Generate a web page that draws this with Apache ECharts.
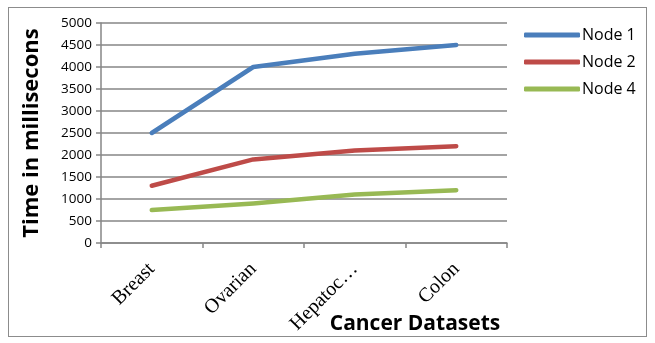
<!DOCTYPE html>
<html><head><meta charset="utf-8">
<script src="https://cdn.jsdelivr.net/npm/echarts@6/dist/echarts.min.js"></script>
<style>
html,body{margin:0;padding:0;background:#fff;}
#frame{position:absolute;left:8px;top:7px;width:639px;height:330px;border:1px solid #8c8c8c;box-sizing:border-box;}
#c{position:absolute;left:0;top:0;width:655px;height:343px;}
</style></head>
<body>
<div id="frame"></div>
<div id="c"></div>
<script>
const categories = ['Breast', 'Ovarian', 'Hepatoc…', 'Colon'];
const node1 = [2500, 4000, 4300, 4500];
const node2 = [1300, 1900, 2100, 2200];
const node4 = [750, 900, 1100, 1200];
const seriesNames = ['Node 1', 'Node 2', 'Node 4'];
const colors = ['#4a7ebb', '#be4b48', '#98b954'];

const chart = echarts.init(document.getElementById('c'), null, {renderer: 'canvas'});
const mk = (name, data, color) => ({
  name, type: 'line', data, symbol: 'none', smooth: false,
  lineStyle: {width: 4.5, color, cap: 'round', join: 'round'},
  itemStyle: {color}
});
chart.setOption({
  animation: false,
  backgroundColor: 'transparent',
  grid: {left: 101, right: 148, top: 23, bottom: 100, containLabel: false},
  legend: {
    orient: 'vertical', left: 524, top: 27, itemGap: 11, padding: 0,
    itemWidth: 56, itemHeight: 5, icon: 'roundRect',
    textStyle: {fontFamily: 'Open Sans', fontSize: 16, color: '#000', padding: [0,0,0,-3]},
    data: seriesNames
  },
  xAxis: {
    type: 'category', data: categories, boundaryGap: true,
    axisLine: {lineStyle: {color: '#868686', width: 1.5}},
    axisTick: {show: true, length: 5, lineStyle: {color: '#868686', width: 1.5}},
    axisLabel: {rotate: 45, margin: 23, fontFamily: 'Liberation Serif', fontSize: 20, color: '#000', interval: 0}
  },
  yAxis: {
    type: 'value', min: 0, max: 5000, interval: 500,
    axisLine: {show: true, lineStyle: {color: '#868686', width: 1.5}},
    axisTick: {show: true, length: 5, inside: false, lineStyle: {color: '#868686', width: 1.5}},
    splitLine: {show: true, lineStyle: {color: '#868686', width: 1.5}},
    axisLabel: {margin: 9, fontFamily: 'Open Sans', fontSize: 13.5, color: '#000', formatter: v => String(v)}
  },
  graphic: [
    {type: 'text', x: 32, y: 133, rotation: Math.PI/2,
     style: {text: 'Time in millisecons', font: 'bold 22px "Open Sans"', fill: '#000', align: 'center', verticalAlign: 'middle'}},
    {type: 'text', x: 415, y: 324,
     style: {text: 'Cancer Datasets', font: 'bold 21px "Open Sans"', fill: '#000', align: 'center', verticalAlign: 'middle'}}
  ],
  series: [mk(seriesNames[0], node1, colors[0]), mk(seriesNames[1], node2, colors[1]), mk(seriesNames[2], node4, colors[2])]
});
</script>
</body></html>
